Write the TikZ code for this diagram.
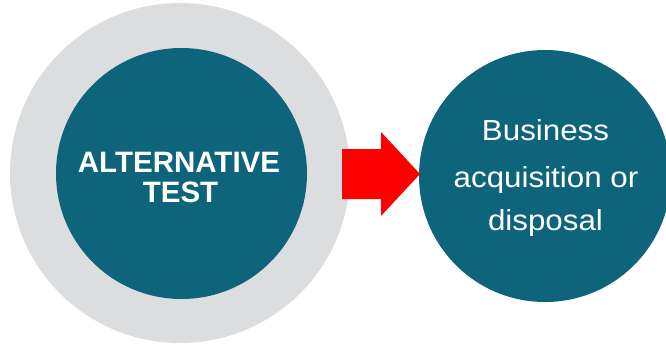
\documentclass[tikz,border=0pt]{standalone}
\usepackage{fontspec}
\setmainfont{Liberation Sans}
\newfontfamily\widefont[FakeStretch=1.08]{Liberation Sans}
\definecolor{tealc}{RGB}{14,100,122}
\definecolor{ringc}{RGB}{220,221,223}
\tikzset{
  disc/.style={circle, inner sep=0pt, draw=none},
  boldlbl/.style={text=white, inner sep=0pt, anchor=base, font=\bfseries\fontsize{29.5}{30}\selectfont},
  reglbl/.style={text=white, inner sep=0pt, anchor=base, font=\widefont\fontsize{29}{30}\selectfont}
}
\begin{document}
\begin{tikzpicture}[x=1pt,y=-1pt]
\useasboundingbox (0,0) rectangle (666,346);
\clip (0,0) rectangle (666,346);
\node[disc, fill=ringc, minimum size=340pt] (ring) at (180,173) {};
\node[disc, fill=tealc, minimum size=251pt] (alt) at (181.5,173.5) {};
\node[disc, fill=tealc, minimum size=252pt] (biz) at (545,176) {};
\fill[red] (342,149) -- (381,149) -- (381,132) -- (420,174) -- (381,216) -- (381,199) -- (342,199) -- cycle;
\node[boldlbl] (t1) at (179,172) {ALTERNATIVE};
\node[boldlbl] (t2) at (180.5,202) {TEST};
\node[reglbl] (b1) at (545.5,140.7) {Business};
\node[reglbl] (b2) at (546,187.3) {acquisition or};
\node[reglbl] (b3) at (545.5,230) {disposal};
\end{tikzpicture}
\end{document}
